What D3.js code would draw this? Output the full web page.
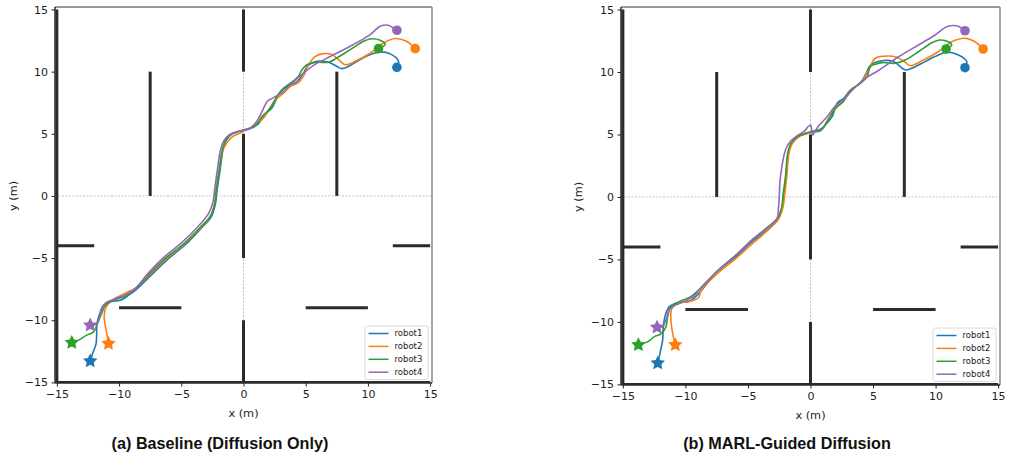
<!DOCTYPE html>
<html>
<head>
<meta charset="utf-8">
<script src="https://cdn.jsdelivr.net/npm/d3@7"></script>
<style>
  body { margin: 0; background: #fff; }
  svg { font-family: "DejaVu Sans", sans-serif; }
  .tick text { font-size: 11px; fill: #222; }
  .tick line { stroke: #222; }
</style>
</head>
<body>
<svg id="chart" width="1010" height="459"></svg>
<script>
// ---- data ----
const robots = ["robot1", "robot2", "robot3", "robot4"];
const colors = ["#1f77b4", "#ff7f0e", "#2ca02c", "#9467bd"];
const xTicks = [-15, -10, -5, 0, 5, 10, 15];
const yTicks = [-15, -10, -5, 0, 5, 10, 15];
const titles = ["(a) Baseline (Diffusion Only)", "(b) MARL-Guided Diffusion"];

// walls: [x1, y1, x2, y2]
const walls = [
  [-15, -15, -15, 15], [-15, -15, 15, -15],
  [0, 10, 0, 15], [0, -5, 0, 5], [0, -15, 0, -10],
  [-7.5, 0, -7.5, 10], [7.5, 0, 7.5, 10],
  [-15, -4, -12, -4], [12, -4, 15, -4],
  [-10, -9, -5, -9], [5, -9, 10, -9]
];

// (a) baseline trajectories
const baseR1 = [[-12.32,-13.28],[-12.1,-12.6],[-11.85,-11.9],[-11.8,-11.0],[-11.78,-10.3],[-11.6,-9.6],[-11.25,-8.8],[-10.7,-8.5],[-9.9,-8.4],[-9.25,-8.0],[-8.7,-7.6],[-7.4,-6.35],[-6.1,-5.1],[-4.7,-3.95],[-3.4,-2.6],[-2.6,-1.7],[-2.25,-0.6],[-2.12,0.5],[-1.88,2.1],[-1.65,3.7],[-1.4,4.45],[-0.95,4.98],[-0.2,5.25],[0.6,5.45],[1.15,5.75],[1.5,6.2],[1.9,6.7],[2.3,7.1],[2.95,8.35],[3.5,8.8],[4.3,9.2],[4.8,9.85],[5.2,10.5],[5.9,10.83],[6.83,10.75],[7.5,10.43],[7.9,10.24],[8.45,10.43],[9.38,10.97],[10.2,11.37],[11.0,11.59],[11.8,11.43],[12.46,10.83],[12.33,10.35]];
const baseR2 = [[-10.85,-11.88],[-11.0,-11.0],[-11.15,-10.2],[-11.2,-9.7],[-11.05,-8.95],[-10.6,-8.4],[-9.65,-7.9],[-8.6,-7.35],[-7.5,-6.3],[-6.2,-5.05],[-4.8,-3.9],[-3.45,-2.55],[-2.7,-1.7],[-2.35,-0.7],[-2.2,0.5],[-1.95,2.1],[-1.72,3.5],[-1.35,4.25],[-0.9,4.75],[-0.2,5.1],[0.55,5.5],[1.1,5.85],[1.6,6.25],[2.0,6.9],[2.6,7.75],[3.2,8.25],[3.75,8.8],[4.4,9.1],[4.8,9.6],[5.2,10.5],[5.75,11.2],[6.43,11.45],[7.1,11.37],[7.64,10.97],[8.18,10.56],[9.1,10.9],[10.2,11.5],[11.25,12.3],[12.2,12.66],[13.1,12.44],[13.8,11.85]];
const baseR3 = [[-13.8,-11.8],[-13.26,-11.6],[-12.6,-11.2],[-12.05,-10.94],[-11.75,-10.3],[-11.4,-9.45],[-11.1,-8.8],[-10.45,-8.4],[-9.4,-8.0],[-8.6,-7.4],[-7.5,-6.2],[-6.2,-4.95],[-4.8,-3.85],[-3.45,-2.5],[-2.65,-1.6],[-2.3,-0.6],[-2.18,0.5],[-1.95,2.1],[-1.7,3.7],[-1.45,4.45],[-1.0,4.95],[-0.25,5.22],[0.5,5.45],[1.0,5.7],[1.5,6.4],[2.15,7.06],[2.68,8.0],[3.2,8.65],[3.75,9.05],[4.4,9.6],[4.7,10.15],[5.1,10.55],[5.9,10.76],[6.83,10.75],[7.5,11.1],[8.58,11.77],[9.65,12.44],[10.18,12.63],[10.98,12.52],[11.39,12.18],[10.85,11.85]];
const baseR4 = [[-12.32,-10.4],[-11.8,-10.27],[-11.52,-9.46],[-11.12,-8.65],[-10.45,-8.33],[-9.5,-7.95],[-8.7,-7.45],[-7.6,-6.15],[-6.3,-4.85],[-4.9,-3.7],[-3.6,-2.4],[-2.8,-1.4],[-2.45,-0.5],[-2.32,0.5],[-2.1,2.1],[-1.85,3.7],[-1.6,4.4],[-1.1,4.95],[-0.35,5.2],[0.5,5.4],[1.0,5.9],[1.5,6.8],[1.9,7.6],[2.3,7.85],[3.21,8.4],[4.02,9.2],[4.82,9.88],[5.63,10.5],[6.97,11.22],[8.84,12.18],[10.18,12.98],[10.98,13.65],[11.65,13.73],[12.2,13.39],[12.33,13.33]];

// (b) MARL-guided trajectories
const marlR1 = [[-12.21,-13.3],[-12.03,-12.5],[-11.82,-11.44],[-11.77,-10.38],[-11.6,-9.44],[-11.29,-8.78],[-10.76,-8.5],[-9.96,-8.38],[-9.6,-8.3],[-8.9,-7.7],[-7.5,-6.0],[-6.1,-4.9],[-4.7,-3.6],[-3.4,-2.6],[-2.6,-1.8],[-2.25,-0.8],[-2.1,0.3],[-1.95,1.62],[-1.78,3.5],[-1.5,4.3],[-1.0,4.85],[-0.35,5.1],[0.15,5.2],[0.8,5.3],[1.3,5.9],[1.73,6.42],[2.13,7.5],[2.66,7.9],[3.19,8.56],[3.98,9.1],[4.4,9.8],[4.8,10.55],[5.71,10.9],[6.64,10.83],[7.17,10.43],[7.57,10.16],[8.1,10.3],[9.16,10.83],[10.22,11.36],[10.89,11.58],[11.69,11.42],[12.49,10.83],[12.35,10.34]];
const marlR2 = [[-10.81,-11.84],[-11.02,-10.9],[-11.16,-9.84],[-11.08,-8.9],[-10.62,-8.5],[-9.7,-8.38],[-8.95,-8.05],[-8.7,-7.4],[-7.4,-6.1],[-6.0,-4.95],[-4.6,-3.7],[-3.35,-2.6],[-2.55,-1.75],[-2.2,-0.8],[-2.05,0.3],[-1.9,1.62],[-1.72,3.5],[-1.45,4.3],[-0.95,4.8],[-0.3,5.05],[0.3,5.3],[0.9,5.45],[1.4,6.2],[1.9,7.0],[2.6,7.6],[3.19,8.56],[3.98,9.1],[4.65,10.16],[5.18,11.1],[6.24,11.28],[6.9,11.17],[7.57,10.78],[7.97,10.5],[9.03,10.96],[10.22,11.62],[11.29,12.42],[12.35,12.7],[13.15,12.42],[13.8,11.84]];
const marlR3 = [[-13.76,-11.84],[-13.0,-11.58],[-12.48,-11.18],[-11.95,-10.96],[-11.55,-10.38],[-11.42,-9.58],[-11.16,-8.78],[-10.49,-8.38],[-9.6,-8.0],[-8.6,-7.1],[-7.3,-5.8],[-6.0,-4.7],[-4.7,-3.45],[-3.4,-2.4],[-2.6,-1.65],[-2.3,-0.8],[-2.18,0.3],[-2.0,1.62],[-1.82,3.5],[-1.55,4.3],[-1.05,4.82],[-0.4,5.1],[0.13,5.22],[0.93,5.5],[1.5,6.3],[2.0,7.1],[2.66,7.7],[3.19,8.5],[3.98,9.1],[4.52,9.62],[4.78,10.43],[5.1,10.6],[5.71,10.75],[6.77,10.7],[7.57,10.96],[8.63,11.62],[9.7,12.34],[10.36,12.56],[11.02,12.42],[11.29,12.16],[10.84,11.84]];
const marlR4 = [[-12.27,-10.43],[-11.82,-10.38],[-11.55,-9.84],[-11.29,-9.04],[-10.76,-8.64],[-10.1,-8.38],[-9.3,-7.9],[-8.5,-7.0],[-7.2,-5.7],[-5.9,-4.6],[-4.6,-3.4],[-3.3,-2.35],[-2.7,-1.8],[-2.55,-0.78],[-2.4,1.62],[-2.0,3.76],[-1.6,4.45],[-1.0,4.95],[-0.45,5.3],[-0.2,5.62],[0.0,5.76],[0.13,5.1],[0.2,4.96],[0.4,5.3],[0.6,5.62],[1.33,6.42],[2.0,7.3],[2.66,7.8],[3.3,8.5],[4.38,9.5],[5.4,10.1],[7.04,11.22],[8.63,12.16],[9.96,12.96],[10.89,13.62],[11.69,13.7],[12.22,13.42],[12.35,13.3]];

const panelData = [
  [baseR1, baseR2, baseR3, baseR4],
  [marlR1, marlR2, marlR3, marlR4]
];

// ---- layout ----
const svg = d3.select("#chart");
const panels = [
  {left: 55, right: 432, top: 7, bottom: 383, ylab: 13, title: 220, legend: [365, 326]},
  {left: 621, right: 1000, top: 7, bottom: 385, ylab: 578, title: 787, legend: [933, 328]}
];

// matplotlib-like fat star
function star(r) {
  const pts = [];
  for (let k = 0; k < 10; k++) {
    const a = -Math.PI / 2 + k * Math.PI / 5;
    const rr = k % 2 ? r * 0.5 : r;
    pts.push([rr * Math.cos(a), rr * Math.sin(a)]);
  }
  return "M" + pts.map(p => p.join(",")).join("L") + "Z";
}

panels.forEach((p, pi) => {
  const x = d3.scaleLinear().domain([-15.15, 15.15]).range([p.left, p.right]);
  const y = d3.scaleLinear().domain([-15.05, 15.2]).range([p.bottom, p.top]);
  const g = svg.append("g");

  g.append("clipPath").attr("id", "clip" + pi)
    .append("rect")
      .attr("x", p.left).attr("y", p.top)
      .attr("width", p.right - p.left).attr("height", p.bottom - p.top);

  const plot = g.append("g").attr("clip-path", `url(#clip${pi})`);

  // reference lines through origin
  plot.append("line")
    .attr("x1", x(0)).attr("x2", x(0)).attr("y1", p.top).attr("y2", p.bottom)
    .attr("stroke", "#999").attr("stroke-width", 0.6).attr("stroke-dasharray", "2,1.5");
  plot.append("line")
    .attr("x1", p.left).attr("x2", p.right).attr("y1", y(0)).attr("y2", y(0))
    .attr("stroke", "#999").attr("stroke-width", 0.6).attr("stroke-dasharray", "2,1.5");

  // walls
  plot.selectAll(".wall")
    .data(walls)
    .join("line")
      .attr("class", "wall")
      .attr("x1", d => x(d[0])).attr("y1", d => y(d[1]))
      .attr("x2", d => x(d[2])).attr("y2", d => y(d[3]))
      .attr("stroke", "#2b2b2b").attr("stroke-width", 3);

  const line = d3.line()
    .x(d => x(d[0]))
    .y(d => y(d[1]))
    .curve(d3.curveCatmullRom.alpha(0.5));

  const trajs = panelData[pi];

  plot.selectAll(".traj")
    .data(trajs)
    .join("path")
      .attr("class", "traj")
      .attr("fill", "none")
      .attr("stroke", (d, i) => colors[i])
      .attr("stroke-width", 1.6)
      .attr("d", line);

  // start stars
  plot.selectAll(".start")
    .data(trajs)
    .join("path")
      .attr("class", "start")
      .attr("transform", d => `translate(${x(d[0][0])},${y(d[0][1])})`)
      .attr("d", star(7.6))
      .attr("fill", (d, i) => colors[i]);

  // end circles
  plot.selectAll(".goal")
    .data(trajs)
    .join("circle")
      .attr("class", "goal")
      .attr("cx", d => x(d[d.length - 1][0]))
      .attr("cy", d => y(d[d.length - 1][1]))
      .attr("r", 4.8)
      .attr("fill", (d, i) => colors[i]);

  // spines
  g.append("line").attr("x1", p.left).attr("x2", p.right).attr("y1", p.top).attr("y2", p.top)
    .attr("stroke", "#333").attr("stroke-width", 1);
  g.append("line").attr("x1", p.right).attr("x2", p.right).attr("y1", p.top).attr("y2", p.bottom)
    .attr("stroke", "#888").attr("stroke-width", 1.5);
  g.append("line").attr("x1", p.left).attr("x2", p.left).attr("y1", p.top).attr("y2", p.bottom)
    .attr("stroke", "#2b2b2b").attr("stroke-width", 1.5);
  g.append("line").attr("x1", p.left).attr("x2", p.right).attr("y1", p.bottom).attr("y2", p.bottom)
    .attr("stroke", "#2b2b2b").attr("stroke-width", 1.5);

  // axes
  g.append("g")
    .attr("transform", `translate(0,${p.bottom})`)
    .call(d3.axisBottom(x).tickValues(xTicks).tickSize(3.5).tickPadding(4))
    .call(a => a.select(".domain").remove());

  g.append("g")
    .attr("transform", `translate(${p.left},0)`)
    .call(d3.axisLeft(y).tickValues(yTicks).tickSize(3.5).tickPadding(3.5))
    .call(a => a.select(".domain").remove());

  g.selectAll(".tick text").attr("font-family", "DejaVu Sans").attr("font-size", 11.3);

  g.append("text")
    .attr("x", (p.left + p.right) / 2)
    .attr("y", p.bottom + 34)
    .attr("text-anchor", "middle")
    .attr("font-size", 11.3)
    .attr("fill", "#222")
    .text("x (m)");

  g.append("text")
    .attr("transform", `translate(${p.ylab},${y(0)}) rotate(-90)`)
    .attr("text-anchor", "middle")
    .attr("dy", "0.35em")
    .attr("font-size", 11.3)
    .attr("fill", "#222")
    .text("y (m)");

  // legend
  const lg = g.append("g").attr("transform", `translate(${p.legend[0]},${p.legend[1]})`);
  lg.append("rect")
    .attr("width", 63).attr("height", 53.5).attr("rx", 2)
    .attr("fill", "white").attr("fill-opacity", 0.85)
    .attr("stroke", "#d0d0d0").attr("stroke-width", 0.8);
  robots.forEach((r, i) => {
    const yy = 7.5 + i * 12.9;
    lg.append("line")
      .attr("x1", 3.5).attr("x2", 23.5).attr("y1", yy).attr("y2", yy)
      .attr("stroke", colors[i]).attr("stroke-width", 1.5);
    lg.append("text")
      .attr("x", 29.5).attr("y", yy).attr("dy", "0.35em")
      .attr("font-size", 8.5).attr("fill", "#222")
      .text(r);
  });

  // panel caption
  svg.append("text")
    .attr("x", p.title)
    .attr("y", 449)
    .attr("text-anchor", "middle")
    .attr("font-family", "Liberation Sans, Arial, sans-serif")
    .attr("font-weight", "bold")
    .attr("font-size", 16.2)
    .attr("fill", "#111")
    .text(titles[pi]);
});
</script>
</body>
</html>
